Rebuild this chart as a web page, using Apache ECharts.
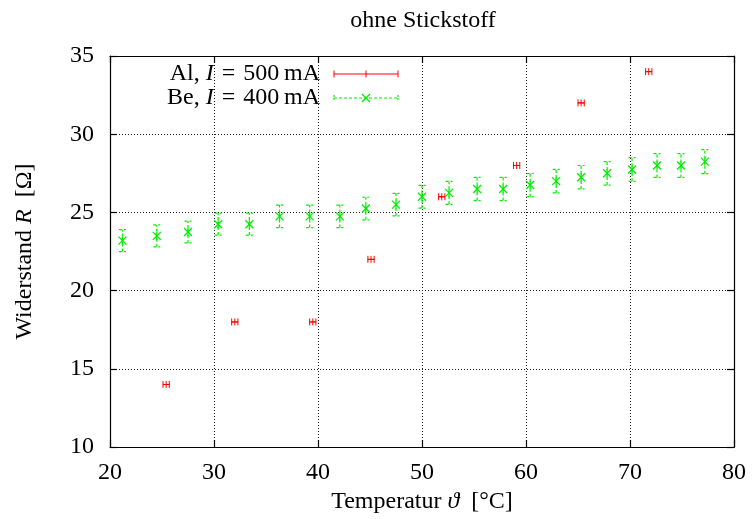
<!DOCTYPE html>
<html><head><meta charset="utf-8">
<script src="https://cdn.jsdelivr.net/npm/echarts@6/dist/echarts.min.js"></script>
<style>html,body{margin:0;padding:0;background:#fff}#c{width:753px;height:519px}</style>
</head><body><div id="c"></div>
<script>
// ---- data ----
var xTicks = [20, 30, 40, 50, 60, 70, 80];
var yTicks = [10, 15, 20, 25, 30, 35];
var alT    = [25.4, 32.0, 39.5, 45.1, 51.9, 59.1, 65.3, 71.8];
var alR    = [14, 18, 18, 22, 26, 28, 32, 34];
var alTErr = [0.3, 0.3, 0.3, 0.3, 0.3, 0.3, 0.3, 0.3];
var beT    = [21.2, 24.5, 27.5, 30.4, 33.4, 36.3, 39.2, 42.1, 44.6, 47.5, 50.0, 52.6, 55.3, 57.8, 60.4, 62.9, 65.3, 67.8, 70.2, 72.6, 74.9, 77.2];
var beR    = [23.2, 23.5, 23.75, 24.25, 24.25, 24.75, 24.75, 24.75, 25.25, 25.5, 26.0, 26.25, 26.5, 26.5, 26.75, 27.0, 27.25, 27.5, 27.75, 28.0, 28.0, 28.25];
var beRErr = [0.7, 0.7, 0.7, 0.7, 0.7, 0.72, 0.72, 0.72, 0.72, 0.72, 0.73, 0.73, 0.74, 0.74, 0.74, 0.75, 0.75, 0.75, 0.76, 0.76, 0.76, 0.77];
var titleText = 'ohne Stickstoff';
var xName = 'Temperatur {i|ϑ}\u2002[°C]';
var yName = 'Widerstand {i|R}\u2002[Ω]';
var alLabel = 'Al, {i|I}\u2004=\u2004500\u2009mA';
var beLabel = 'Be, {i|I}\u2004=\u2004400\u2009mA';

var FONT = 'Liberation Serif';
var FS = 24;
var RED = '#ff0000', GREEN = '#00ee00';

var alData = alT.map(function(t,i){return [t, alR[i], alTErr[i]];});
var beData = beT.map(function(t,i){return [t, beR[i], beRErr[i]];});

function renderAl(params, api){
  var t=api.value(0), r=api.value(1), e=api.value(2);
  var c=api.coord([t,r]), a=api.coord([t-e,r]), b=api.coord([t+e,r]);
  var h=3.5, st={stroke:RED, lineWidth:1};
  return {type:'group', children:[
    {type:'line', shape:{x1:a[0],y1:c[1],x2:b[0],y2:c[1]}, style:st},
    {type:'line', shape:{x1:a[0],y1:c[1]-h,x2:a[0],y2:c[1]+h}, style:st},
    {type:'line', shape:{x1:b[0],y1:c[1]-h,x2:b[0],y2:c[1]+h}, style:st},
    {type:'line', shape:{x1:c[0]-h,y1:c[1],x2:c[0]+h,y2:c[1]}, style:st},
    {type:'line', shape:{x1:c[0],y1:c[1]-h,x2:c[0],y2:c[1]+h}, style:st}
  ]};
}
function renderBe(params, api){
  var t=api.value(0), r=api.value(1), e=api.value(2);
  var c=api.coord([t,r]), lo=api.coord([t,r-e]), hi=api.coord([t,r+e]);
  var w=3.5, s=4;
  var st={stroke:GREEN, lineWidth:1.3};
  return {type:'group', children:[
    {type:'line', shape:{x1:c[0],y1:lo[1],x2:c[0],y2:hi[1]}, style:{stroke:GREEN,lineWidth:1.2,lineDash:[3,2]}},
    {type:'line', shape:{x1:c[0],y1:c[1]-s,x2:c[0],y2:c[1]+s}, style:st},
    {type:'line', shape:{x1:c[0]-w,y1:lo[1],x2:c[0]+w,y2:lo[1]}, style:{stroke:GREEN,lineWidth:1.2,lineDash:[3,2]}},
    {type:'line', shape:{x1:c[0]-w,y1:hi[1],x2:c[0]+w,y2:hi[1]}, style:{stroke:GREEN,lineWidth:1.2,lineDash:[3,2]}},
    {type:'line', shape:{x1:c[0]-s,y1:c[1]-s,x2:c[0]+s,y2:c[1]+s}, style:st},
    {type:'line', shape:{x1:c[0]-s,y1:c[1]+s,x2:c[0]+s,y2:c[1]-s}, style:st}
  ]};
}

var gridLine = {show:true, lineStyle:{color:'#222', width:1, type:[1,2]}};
var axLine = {show:true, lineStyle:{color:'#000', width:1.2}};
var axTick = {show:true, inside:true, length:7, lineStyle:{color:'#000', width:1.2}};
var txt = {fontFamily:FONT, fontSize:FS, color:'#000'};
var richI = {i:{fontFamily:FONT, fontSize:FS, fontStyle:'italic', color:'#000'}};

var chart = echarts.init(document.getElementById('c'), null, {renderer:'canvas'});
chart.setOption({
  animation:false,
  backgroundColor:'#fff',
  title:{text:titleText, left:418, textAlign:'center', top:4,
    textStyle:{fontFamily:FONT, fontSize:FS, fontWeight:'normal', color:'#000'}},
  grid:{left:110, right:19, top:56, bottom:71},
  xAxis:[
    {type:'value', min:xTicks[0], max:xTicks[xTicks.length-1], interval:10, position:'bottom',
     axisLine:axLine, axisTick:axTick, splitLine:gridLine,
     axisLabel:Object.assign({margin:14}, txt),
     name:xName, nameLocation:'middle', nameGap:40, nameTextStyle:Object.assign({rich:richI}, txt)},
    {type:'value', min:xTicks[0], max:xTicks[xTicks.length-1], interval:10, position:'top',
     axisLine:axLine, axisTick:axTick, splitLine:{show:false}, axisLabel:{show:false}}
  ],
  yAxis:[
    {type:'value', min:yTicks[0], max:yTicks[yTicks.length-1], interval:5, position:'left',
     axisLine:axLine, axisTick:axTick, splitLine:gridLine,
     axisLabel:Object.assign({margin:16}, txt),
     name:yName, nameLocation:'middle', nameGap:73,
     nameTextStyle:Object.assign({rich:richI}, txt)},
    {type:'value', min:yTicks[0], max:yTicks[yTicks.length-1], interval:5, position:'right',
     axisLine:axLine, axisTick:axTick, splitLine:{show:false}, axisLabel:{show:false}}
  ],
  series:[
    {name:'Al', type:'custom', xAxisIndex:0, yAxisIndex:0, renderItem:renderAl, data:alData, encode:{x:0,y:1}, z:3},
    {name:'Be', type:'custom', xAxisIndex:0, yAxisIndex:0, renderItem:renderBe, data:beData, encode:{x:0,y:1}, z:4}
  ],
  graphic:[
    {type:'text', x:320, y:74, style:{text:alLabel, align:'right', verticalAlign:'middle',
      fontFamily:FONT, fontSize:FS, fill:'#000', rich:{i:{fontFamily:FONT,fontSize:FS,fontStyle:'italic'}}}},
    {type:'text', x:320, y:98, style:{text:beLabel, align:'right', verticalAlign:'middle',
      fontFamily:FONT, fontSize:FS, fill:'#000', rich:{i:{fontFamily:FONT,fontSize:FS,fontStyle:'italic'}}}},
    {type:'group', children:[
      {type:'line', shape:{x1:334,y1:74,x2:398,y2:74}, style:{stroke:RED,lineWidth:1}},
      {type:'line', shape:{x1:334,y1:70.5,x2:334,y2:77.5}, style:{stroke:RED,lineWidth:1}},
      {type:'line', shape:{x1:366,y1:70.5,x2:366,y2:77.5}, style:{stroke:RED,lineWidth:1}},
      {type:'line', shape:{x1:398,y1:70.5,x2:398,y2:77.5}, style:{stroke:RED,lineWidth:1}},
      {type:'line', shape:{x1:334,y1:98,x2:398,y2:98}, style:{stroke:GREEN,lineWidth:1.2,lineDash:[3,2]}},
      {type:'line', shape:{x1:334,y1:95,x2:334,y2:101}, style:{stroke:GREEN,lineWidth:1.2,lineDash:[2,1]}},
      {type:'line', shape:{x1:398,y1:95,x2:398,y2:101}, style:{stroke:GREEN,lineWidth:1.2,lineDash:[2,1]}},
      {type:'line', shape:{x1:362,y1:94,x2:370,y2:102}, style:{stroke:GREEN,lineWidth:1.3}},
      {type:'line', shape:{x1:362,y1:102,x2:370,y2:94}, style:{stroke:GREEN,lineWidth:1.3}}
    ]}
  ]
});
</script></body></html>
